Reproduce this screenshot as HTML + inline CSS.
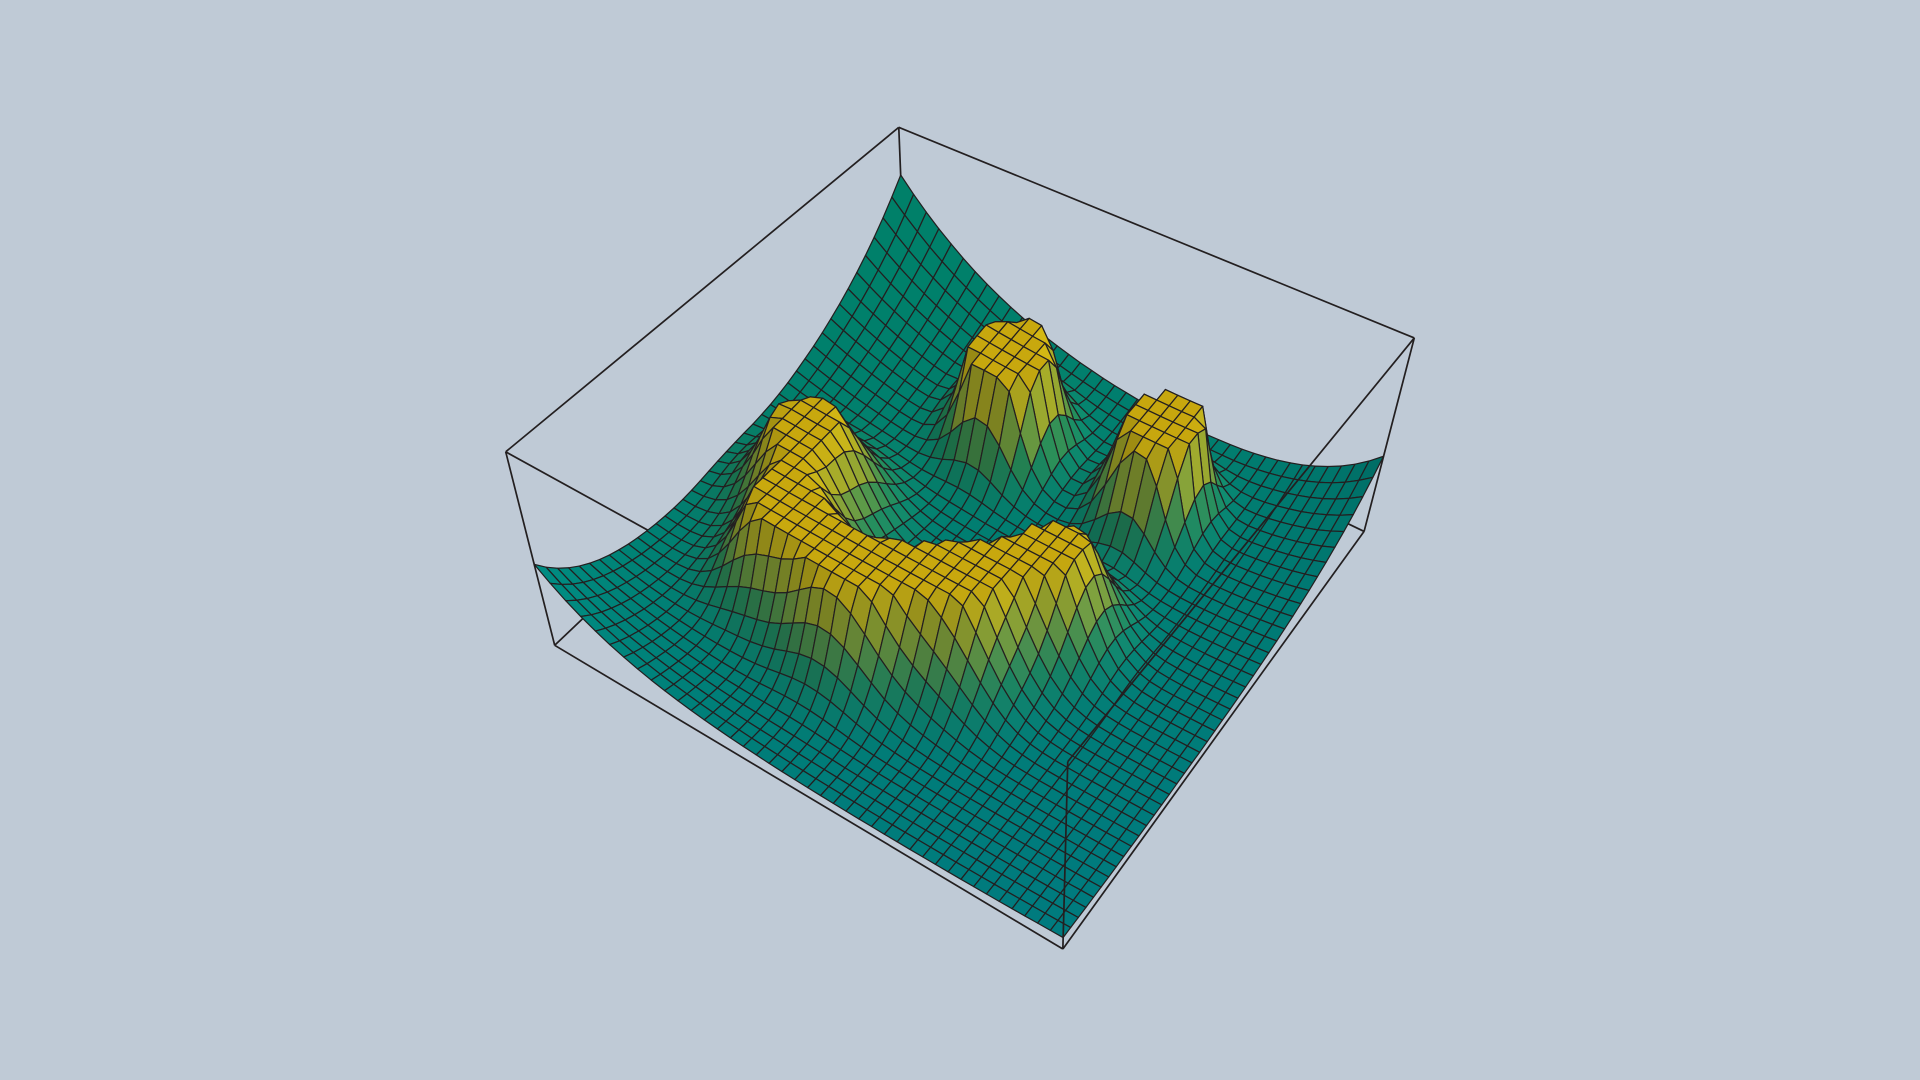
<!DOCTYPE html>
<html><head><meta charset="utf-8"><title>Surface plot</title>
<style>html,body{margin:0;padding:0;background:#bfcad6;}svg{display:block;}</style></head>
<body>
<svg id="chart" width="1920" height="1080" viewBox="0 0 1568 882" xmlns="http://www.w3.org/2000/svg">
<rect x="0" y="0" width="1568" height="882" fill="#bfcad6"/>
<g id="back"></g>
<g id="surf"></g>
<g id="front"></g>
</svg>
<script>
// data: surface features (grid coords u,v in [0,1])
const gridN = 40;
const peakU = [0.36, 0.66, 0.18, 0.25, 0.41, 0.56, 0.66];
const peakV = [0.19, 0.18, 0.50, 0.67, 0.71, 0.62, 0.48];
const peakHeight = [1.3, 1.3, 0.66, 0.62, 0.66, 0.68, 0.64];
const peakWidth = [0.05, 0.05, 0.07, 0.068, 0.072, 0.075, 0.065];
const clipLevel = 0.5;
const cornerHeight = [0.71, 0.35, 0.38, 0.03]; // back, right, left, front
const cornerDecay = [0.22, 0.15, 0.15, 0.3];

// projection box (bottom/top corners): back, right, left, front
const botQ = [[740,254],[1114,434],[453,527],[868,775]];
const topQ = [[734,104],[1155,276],[413,369],[872,622]];
function bil(q,u,v){
  const x=q[0][0]*(1-u)*(1-v)+q[1][0]*u*(1-v)+q[2][0]*(1-u)*v+q[3][0]*u*v;
  const y=q[0][1]*(1-u)*(1-v)+q[1][1]*u*(1-v)+q[2][1]*(1-u)*v+q[3][1]*u*v;
  return [x,y];
}
function proj(u,v,w){const a=bil(botQ,u,v),b=bil(topQ,u,v);return [a[0]+(b[0]-a[0])*w,a[1]+(b[1]-a[1])*w];}
function bump(u,v){let s=0;for(let i=0;i<peakU.length;i++){const d=(u-peakU[i])**2+(v-peakV[i])**2;s+=peakHeight[i]*Math.exp(-d/(2*peakWidth[i]**2));}return Math.min(s,clipLevel);}
function base(u,v){
  return 0.03+cornerHeight[0]*Math.exp(-(u+v)/cornerDecay[0])
   +cornerHeight[1]*Math.exp(-((1-u)+v)/cornerDecay[1])
   +cornerHeight[2]*Math.exp(-(u+(1-v))/cornerDecay[2])
   +cornerHeight[3]*Math.exp(-((1-u)+(1-v))/cornerDecay[3]);
}
const stops=[[0,[0,128,105]],[0.3,[45,128,68]],[0.6,[135,148,40]],[1,[200,168,14]]];
function cmap(t,f){
  let c=stops[stops.length-1][1];
  for(let i=0;i<stops.length-1;i++){if(t<=stops[i+1][0]){const a=stops[i],b=stops[i+1];const k=(t-a[0])/(b[0]-a[0]);c=a[1].map((x,j)=>x+(b[1][j]-x)*k);break;}}
  const blue=[0,122,130];const m=(1-t)*f;
  c=c.map((x,j)=>x+(blue[j]-x)*m);
  return c;
}
const svgNS="http://www.w3.org/2000/svg";
function line(g,p,q,name){
  const l=document.createElementNS(svgNS,'line');
  l.setAttribute('x1',p[0]);l.setAttribute('y1',p[1]);l.setAttribute('x2',q[0]);l.setAttribute('y2',q[1]);
  l.setAttribute('stroke','#231f20');l.setAttribute('stroke-width','1.4');
  
  
  g.appendChild(l);
}
const backG=document.getElementById('back'),frontG=document.getElementById('front'),surfG=document.getElementById('surf');
line(backG,botQ[2],botQ[0],'box-edge');
line(backG,botQ[1],botQ[0],'box-edge');
line(backG,topQ[0],botQ[0],'box-edge');
line(backG,topQ[2],topQ[3],'box-edge');
line(frontG,topQ[0],topQ[2],'box-edge');
line(frontG,topQ[0],topQ[1],'box-edge');
line(frontG,topQ[2],botQ[2],'box-edge');
line(frontG,topQ[1],botQ[1],'box-edge');
line(frontG,botQ[2],botQ[3],'box-edge');
line(frontG,botQ[3],botQ[1],'box-edge');
line(frontG,topQ[1],topQ[3],'box-edge');
line(frontG,botQ[3],topQ[3],'box-edge');

const Z=[],B=[];
for(let i=0;i<=gridN;i++){Z.push([]);B.push([]);for(let j=0;j<=gridN;j++){const u=i/gridN,v=j/gridN;const b=bump(u,v);B[i].push(b);Z[i].push(base(u,v)+b);}}
const cells=[];
for(let i=0;i<gridN;i++)for(let j=0;j<gridN;j++){
  const u0=i/gridN,u1=(i+1)/gridN,v0=j/gridN,v1=(j+1)/gridN;
  const pts=[proj(u0,v0,Z[i][j]),proj(u1,v0,Z[i+1][j]),proj(u1,v1,Z[i+1][j+1]),proj(u0,v1,Z[i][j+1])];
  const depth=bil(botQ,(u0+u1)/2,(v0+v1)/2)[1];
  const bt=(B[i][j]+B[i+1][j]+B[i][j+1]+B[i+1][j+1])/4/clipLevel;
  const dzu=(Z[i+1][j]+Z[i+1][j+1]-Z[i][j]-Z[i][j+1])*gridN/2;
  const dzv=(Z[i][j+1]+Z[i+1][j+1]-Z[i][j]-Z[i+1][j])*gridN/2;
  let c=cmap(bt,((u0+v0)/2)*0.9);
  const sh=1+Math.max(-0.15,Math.min(0.12,(dzv-dzu)*0.03));
  c=c.map(x=>Math.max(0,Math.min(255,Math.round(x*sh))));
  cells.push({pts,depth,c});
}
cells.sort((a,b)=>a.depth-b.depth);
for(const cl of cells){
  const p=document.createElementNS(svgNS,'polygon');
  p.setAttribute('points',cl.pts.map(q=>q[0].toFixed(1)+','+q[1].toFixed(1)).join(' '));
  p.setAttribute('fill','rgb('+cl.c.join(',')+')');
  p.setAttribute('stroke','#231f20');p.setAttribute('stroke-width','1');p.setAttribute('stroke-linejoin','round');
  
  
  surfG.appendChild(p);
}
</script>
</body></html>
